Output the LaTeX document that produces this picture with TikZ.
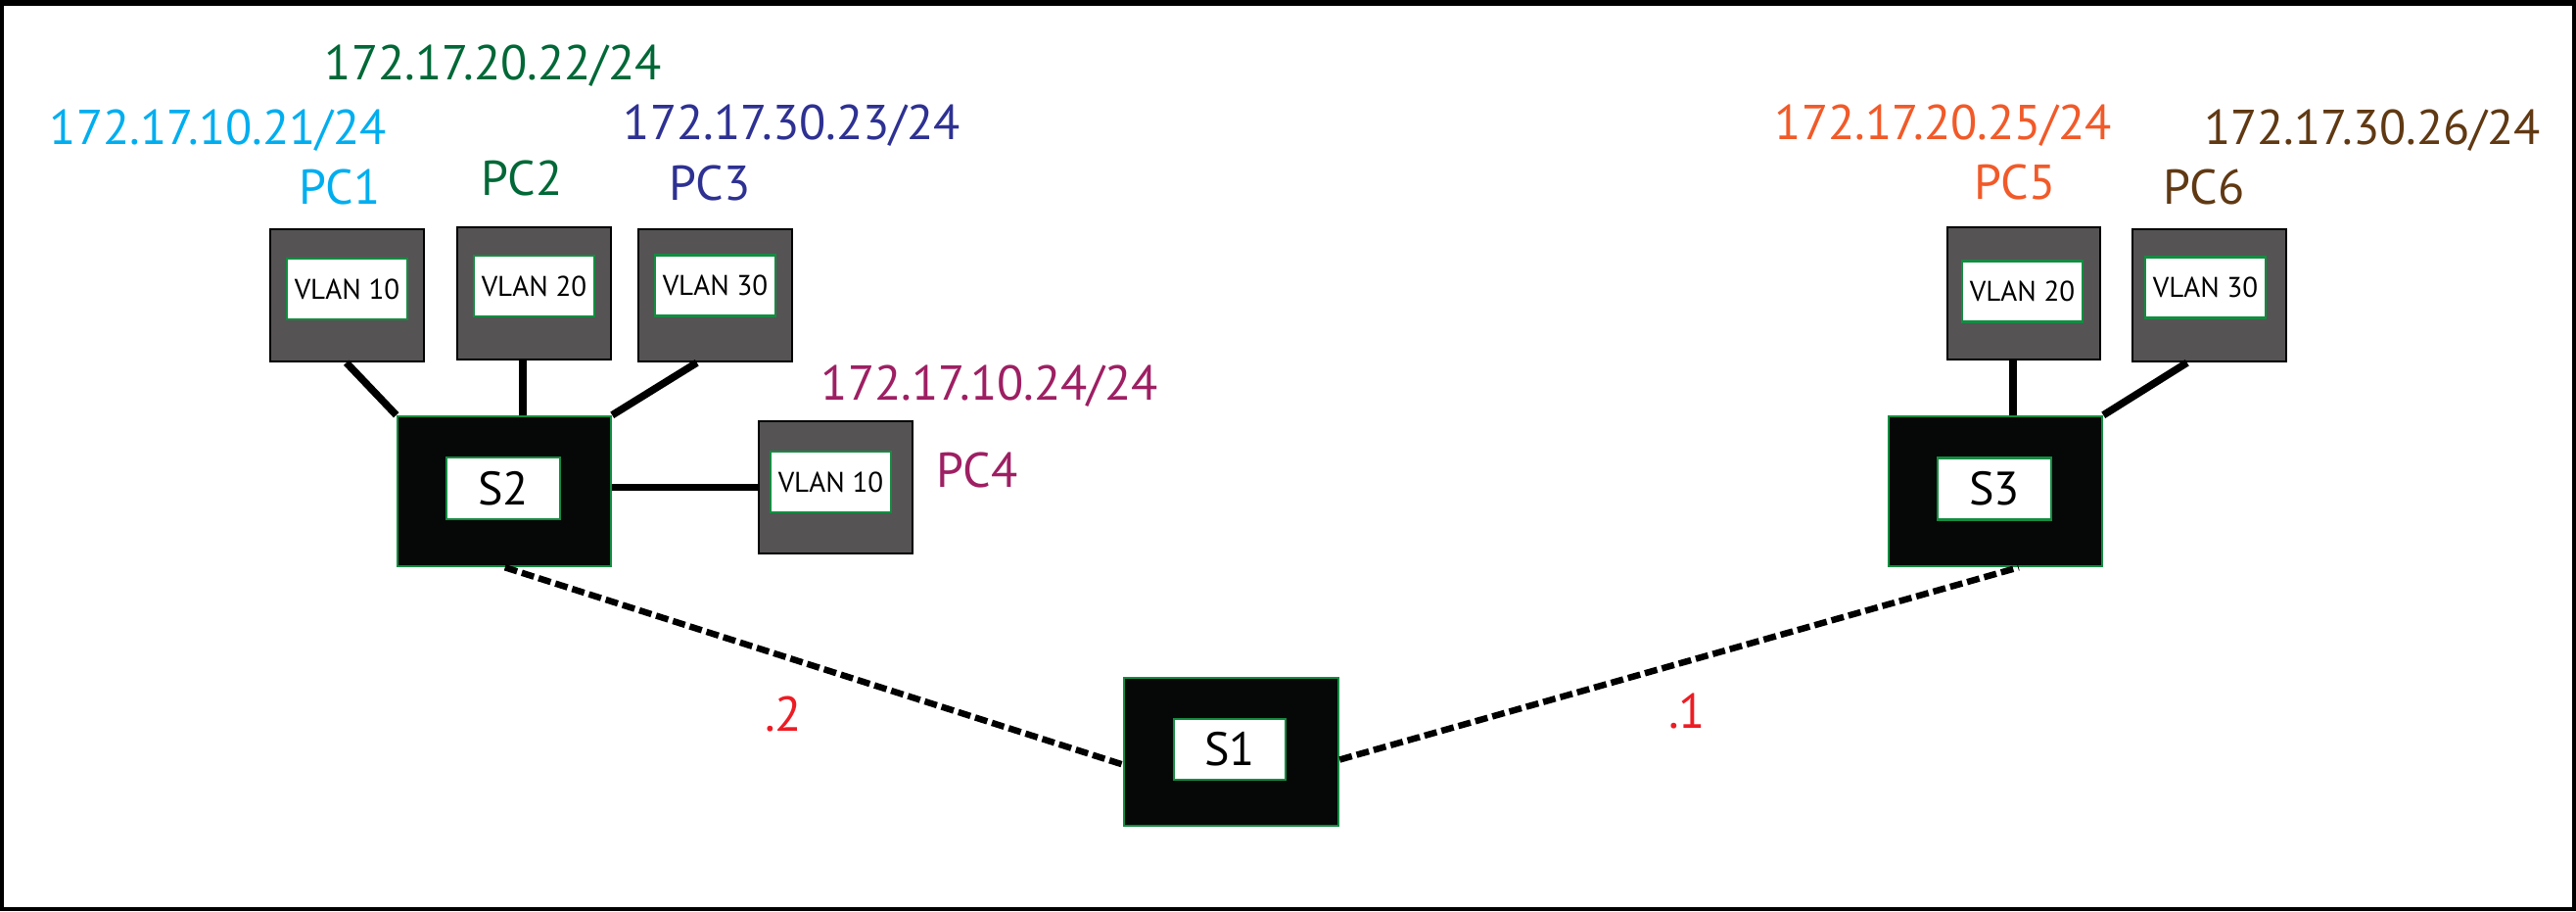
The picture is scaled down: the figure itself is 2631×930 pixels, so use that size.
\documentclass[tikz,border=0pt]{standalone}
\usepackage{fontspec}
\setmainfont{PT Sans}
\usetikzlibrary{calc}
\definecolor{pcgray}{RGB}{85,83,84}
\definecolor{swblack}{RGB}{6,8,7}
\definecolor{boxgreen}{RGB}{20,140,65}
\definecolor{ccyan}{RGB}{0,174,239}
\definecolor{cgreen}{RGB}{0,104,55}
\definecolor{cnavy}{RGB}{46,49,146}
\definecolor{cmag}{RGB}{158,31,99}
\definecolor{corange}{RGB}{241,90,41}
\definecolor{cbrown}{RGB}{96,57,19}
\definecolor{cred}{RGB}{237,28,36}
\newcommand{\labfont}{\fontsize{50}{58}\selectfont}
\newcommand{\vlanfont}{\fontsize{29}{33}\selectfont}
\newcommand{\swfont}{\fontsize{48}{55}\selectfont}
\begin{document}
\begin{tikzpicture}[x=1pt,y=-1pt,
  pcbox/.style={draw=black, line width=2.5pt, fill=pcgray, minimum width=157pt, minimum height=135pt, inner sep=0pt},
  vlanbox/.style={draw=boxgreen, line width=2.5pt, fill=white, minimum width=123pt, minimum height=62pt, inner sep=0pt, font=\vlanfont},
  swbox/.style={draw=boxgreen, line width=2.5pt, fill=swblack, minimum width=218pt, minimum height=153pt, inner sep=0pt},
  swlabel/.style={draw=boxgreen, line width=2.5pt, fill=white, minimum width=116pt, minimum height=63pt, inner sep=0pt, font=\swfont},
  link/.style={line width=7.5pt},
  trunk/.style={line width=6.5pt, dash pattern=on 13pt off 5pt},
  iplabel/.style={anchor=base, inner sep=0pt, font=\labfont}]
\useasboundingbox (0,0) rectangle (2631,930);
% frame
\draw[line width=4pt] (2,2) rectangle (2629,928);
\fill (0,0) rectangle (2631,6);
% PCs
\node[pcbox] (pc1) at (354.5,301.5) {};
\node[pcbox] (pc2) at (545.5,299.5) {};
\node[pcbox] (pc3) at (730.5,301.5) {};
\node[pcbox] (pc4) at (853.5,497.5) {};
\node[pcbox, minimum width=156pt] (pc5) at (2067,299.5) {};
\node[pcbox] (pc6) at (2256.5,301.5) {};
\node[vlanbox] (pc1v) at (354.5,295) {VLAN 10};
\node[vlanbox] (pc2v) at (545.5,292) {VLAN 20};
\node[vlanbox] (pc3v) at (730.5,291.5) {VLAN 30};
\node[vlanbox] (pc4v) at (848.5,492) {VLAN 10};
\node[vlanbox] (pc5v) at (2065.5,297.5) {VLAN 20};
\node[vlanbox] (pc6v) at (2252.5,293.5) {VLAN 30};
% switches
\node[swbox] (s2) at (515,501.5) {};
\node[swbox] (s3) at (2038,501.5) {};
\node[swbox, minimum width=219pt, minimum height=151pt] (s1) at (1257.5,767.5) {};
\node[swlabel] (s2v) at (514,498.5) {S2};
\node[swlabel] (s3v) at (2037,499) {S3};
\node[swlabel, minimum width=114pt, minimum height=62pt] (s1v) at (1256,765) {S1};
% links
\draw[link] ([xshift=79pt]pc1.south west) -- (s2.north west);
\draw[link] ([xshift=68pt]pc2.south west) -- ([xshift=68pt]pc2.south west |- s2.north);
\draw[link] ([xshift=61pt]pc3.south west) -- (s2.north east);
\draw[link] (s2.east |- pc4.west) -- (pc4.west);
\draw[link] ([xshift=128pt]s3.north west |- pc5.south) -- ([xshift=128pt]s3.north west);
\draw[link] ([xshift=57pt]pc6.south west) -- (s3.north east);
\draw[trunk] ([xshift=111pt]s2.south west) -- ([yshift=-13pt]s1.west);
\draw[trunk] ([yshift=-8pt]s1.east) -- ([xshift=134pt]s3.south west);
% labels
\node[iplabel, text=cgreen] (ip2) at (504,81) {172.17.20.22/24};
\node[iplabel, text=ccyan] (ip1) at (223,147) {172.17.10.21/24};
\node[iplabel, text=cnavy] (ip3) at (809,142) {172.17.30.23/24};
\node[iplabel, text=ccyan] (n1) at (347,208) {PC1};
\node[iplabel, text=cgreen] (n2) at (533,199) {PC2};
\node[iplabel, text=cnavy] (n3) at (725,204) {PC3};
\node[iplabel, text=cmag] (ip4) at (1011,408) {172.17.10.24/24};
\node[iplabel, text=cmag] (n4) at (998,497) {PC4};
\node[iplabel, text=corange] (ip5) at (1985,142) {172.17.20.25/24};
\node[iplabel, text=cbrown] (ip6) at (2423,147) {172.17.30.26/24};
\node[iplabel, text=corange] (n5) at (2058,203) {PC5};
\node[iplabel, text=cbrown] (n6) at (2251,208) {PC6};
\node[iplabel, text=cred] (a2) at (800,746) {.2};
\node[iplabel, text=cred] (a1) at (1723,743) {.1};
\end{tikzpicture}
\end{document}
